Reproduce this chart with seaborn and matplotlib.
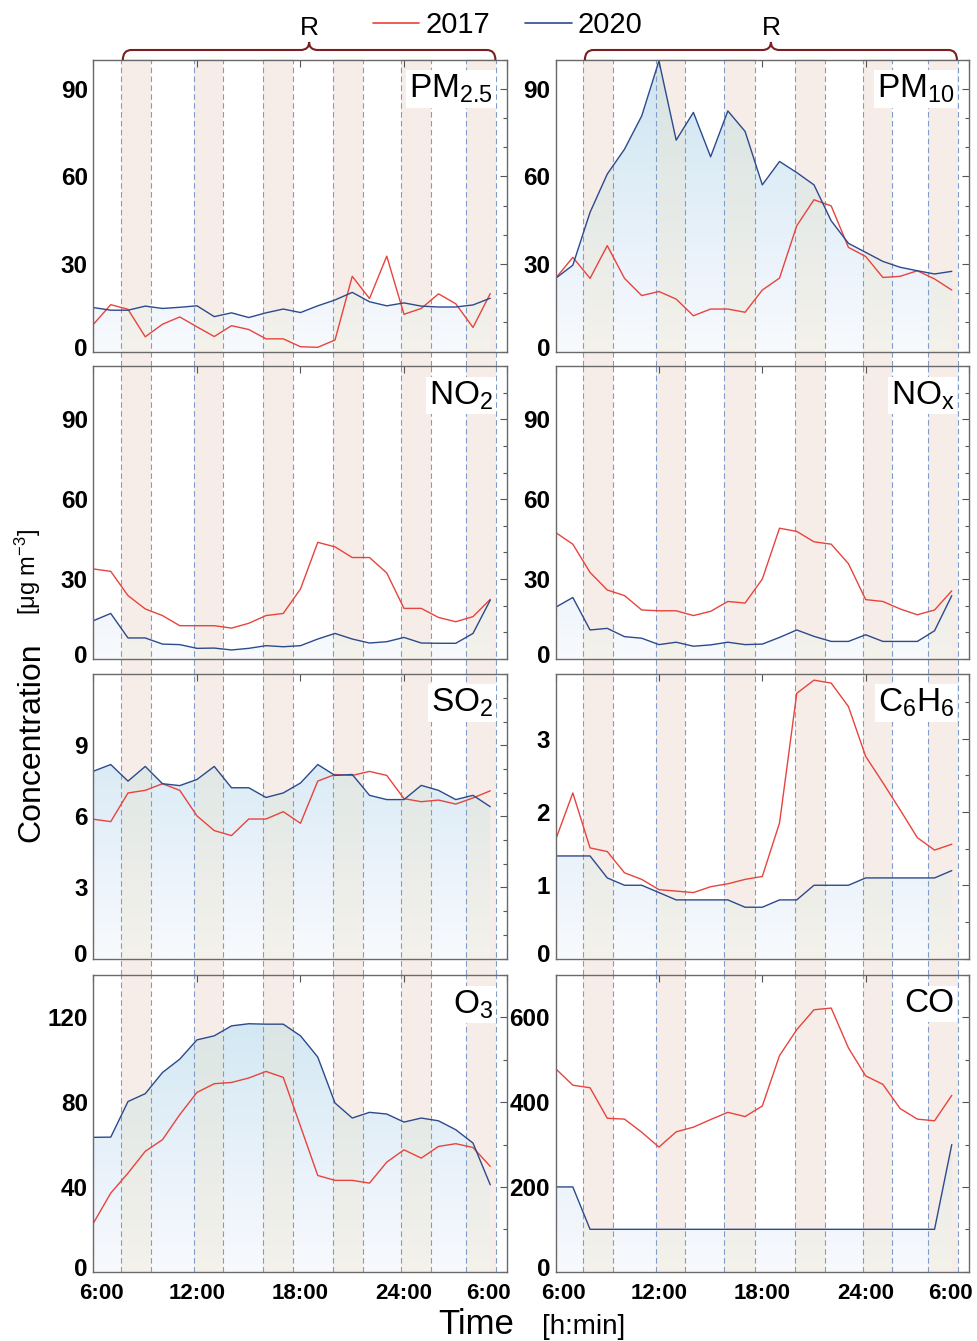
import numpy as np
import matplotlib
matplotlib.use("Agg")
import matplotlib.pyplot as plt
import seaborn as sns
from matplotlib.colors import LinearSegmentedColormap
from matplotlib.path import Path
from matplotlib.patches import PathPatch
from matplotlib.lines import Line2D
from matplotlib.ticker import MultipleLocator
from matplotlib.transforms import blended_transform_factory, ScaledTranslation

# hourly means, 6:00 -> 5:00 next day
hours = list(range(6, 30))

pm25_2017 = [9.4, 16.1, 14.5, 5.1, 9.4, 11.9, 8.5, 5.2, 8.9, 7.6, 4.4, 4.4,
             1.7, 1.5, 4.0, 25.8, 18.2, 32.7, 12.8, 14.8, 19.8, 16.4, 8.3, 19.9]
pm25_2020 = [15.1, 14.2, 14.2, 15.6, 14.8, 15.2, 15.7, 12.0, 13.3, 11.7, 13.3, 14.6,
             13.4, 15.7, 17.7, 20.3, 17.1, 15.7, 16.7, 15.6, 15.3, 15.3, 16.0, 18.3]

pm10_2017 = [25.1, 32.3, 25.1, 36.3, 25.1, 19.2, 20.6, 18.0, 12.3, 14.6, 14.6, 13.5,
             21.1, 25.2, 43.1, 52.0, 49.9, 35.7, 32.6, 25.4, 25.8, 27.7, 24.9, 21.1]
pm10_2020 = [25.1, 29.6, 47.7, 60.8, 69.3, 80.7, 99.5, 72.4, 81.9, 66.7, 82.4, 75.4,
             57.1, 65.1, 61.3, 57.1, 44.8, 37.1, 34.0, 30.9, 28.9, 27.7, 26.6, 27.5]

no2_2017 = [33.8, 32.9, 23.8, 18.8, 16.3, 12.5, 12.5, 12.5, 11.6, 13.4, 16.3, 17.1,
            26.3, 43.8, 42.1, 38.1, 38.1, 32.3, 19.0, 19.0, 15.6, 14.0, 15.9, 22.4]
no2_2020 = [14.4, 17.1, 7.9, 7.9, 5.6, 5.4, 4.0, 4.1, 3.4, 4.0, 5.0, 4.6,
            5.0, 7.5, 9.6, 7.5, 6.0, 6.5, 8.1, 6.0, 5.9, 5.9, 9.6, 22.1]

nox_2017 = [47.5, 43.1, 32.5, 25.9, 23.8, 18.4, 18.1, 18.1, 16.3, 17.9, 21.6, 21.0,
            30.0, 49.1, 47.9, 44.0, 43.1, 35.8, 22.3, 21.6, 18.8, 16.6, 18.4, 25.6]
nox_2020 = [19.4, 23.1, 10.9, 11.5, 8.4, 7.8, 5.4, 6.3, 4.8, 5.3, 6.3, 5.4,
            5.6, 8.1, 10.9, 8.5, 6.6, 6.6, 9.1, 6.6, 6.6, 6.6, 10.6, 23.8]

so2_2017 = [5.88, 5.78, 6.99, 7.10, 7.38, 7.10, 6.02, 5.40, 5.19, 5.89, 5.89, 6.20,
            5.71, 7.49, 7.77, 7.73, 7.90, 7.73, 6.75, 6.62, 6.69, 6.52, 6.78, 7.08]
so2_2020 = [7.91, 8.19, 7.49, 8.11, 7.38, 7.30, 7.56, 8.11, 7.21, 7.21, 6.80, 6.99,
            7.41, 8.19, 7.73, 7.77, 6.89, 6.71, 6.71, 7.31, 7.10, 6.71, 6.89, 6.41]

c6h6_2017 = [1.62, 2.26, 1.51, 1.46, 1.17, 1.08, 0.94, 0.92, 0.90, 0.98, 1.02, 1.08,
             1.12, 1.85, 3.62, 3.80, 3.76, 3.44, 2.76, 2.40, 2.03, 1.65, 1.48, 1.56]
c6h6_2020 = [1.4, 1.4, 1.4, 1.1, 1.0, 1.0, 0.9, 0.8, 0.8, 0.8, 0.8, 0.7,
             0.7, 0.8, 0.8, 1.0, 1.0, 1.0, 1.1, 1.1, 1.1, 1.1, 1.1, 1.2]

o3_2017 = [23.0, 37.1, 46.5, 56.8, 62.3, 74.1, 84.6, 88.7, 89.3, 91.4, 94.5, 91.7,
           68.6, 45.4, 43.1, 43.1, 41.8, 51.7, 57.5, 53.6, 59.1, 60.4, 58.6, 49.7]
o3_2020 = [63.4, 63.5, 80.3, 84.0, 94.0, 100.3, 109.4, 111.3, 116.0, 117.0, 116.8, 116.8,
           111.3, 101.3, 79.6, 72.5, 75.2, 74.4, 70.6, 72.5, 71.2, 67.0, 60.7, 41.0]

co_2017 = [479, 440, 434, 362, 360, 329, 294, 330, 341, 359, 376, 366,
           391, 510, 571, 618, 622, 528, 462, 442, 385, 360, 356, 416]
co_2020 = [200, 200, 100, 100, 100, 100, 100, 100, 100, 100, 100, 100,
           100, 100, 100, 100, 100, 100, 100, 100, 100, 100, 100, 300]

# rush-hour windows (R), in hours
rush_start = [7.6, 11.8, 15.8, 19.9, 23.85, 27.6]
rush_end = [9.35, 13.5, 17.55, 21.65, 25.55, 29.35]

time_ticks = [6, 12, 18, 24, 30]
time_labels = ["6:00", "12:00", "18:00", "24:00", "6:00"]

panel_names = [r"$PM_{2.5}$", r"$PM_{10}$", r"$NO_{2}$", r"$NO_{x}$",
               r"$SO_{2}$", r"$C_{6}H_{6}$", r"$O_{3}$", "CO"]
series_2017 = [pm25_2017, pm10_2017, no2_2017, nox_2017, so2_2017, c6h6_2017, o3_2017, co_2017]
series_2020 = [pm25_2020, pm10_2020, no2_2020, nox_2020, so2_2020, c6h6_2020, o3_2020, co_2020]
y_limits = [(0, 100), (0, 100), (0, 110), (0, 110), (0, 12), (0, 3.88), (0, 140), (0, 700)]
y_ticks = [[0, 30, 60, 90], [0, 30, 60, 90], [0, 30, 60, 90], [0, 30, 60, 90],
           [0, 3, 6, 9], [0, 1, 2, 3], [0, 40, 80, 120], [0, 200, 400, 600]]
y_minor = [10, 10, 10, 10, 1, 0.5, 20, 100]

RED = "#e8433d"
BLUE = "#2c4a8c"
DASH = "#7f9dca"
BAND = "#f7ede8"
BAND_OVER = (236 / 255, 225 / 255, 198 / 255)

sns.set_style("white")
plt.rcParams["font.family"] = ["Liberation Sans", "DejaVu Sans"]
plt.rcParams["mathtext.default"] = "regular"
plt.rcParams["text.color"] = "black"

fig = plt.figure(figsize=(9.78, 13.41), dpi=100)

W, H = 978, 1341
col_x = [(93.5, 507.5), (555.6, 969.0)]
row_y = [(59.5, 351.7), (366.0, 659.0), (674.3, 958.5), (975.0, 1271.7)]

grad_cmap = LinearSegmentedColormap.from_list(
    "fillgrad",
    [(0.0, (248 / 255, 250 / 255, 253 / 255)),
     (0.3, (236 / 255, 243 / 255, 251 / 255)),
     (0.6, (222 / 255, 237 / 255, 246 / 255)),
     (1.0, (204 / 255, 229 / 255, 242 / 255))])
gradient = np.linspace(0, 1, 256).reshape(-1, 1)

axes = []
for i in range(8):
    r, c = divmod(i, 2)
    x0, x1 = col_x[c]
    y0, y1 = row_y[r]
    ax = fig.add_axes([x0 / W, 1 - y1 / H, (x1 - x0) / W, (y1 - y0) / H])
    axes.append(ax)
    ylo, yhi = y_limits[i]
    ax.set_xlim(6, 30)
    ax.set_ylim(ylo, yhi)

    # gradient fill under the 2020 curve
    poly = ax.fill_between(hours, 0, series_2020[i], facecolor="none", edgecolor="none")
    fill_path = poly.get_paths()[0]
    im = ax.imshow(gradient, cmap=grad_cmap, origin="lower", aspect="auto",
                   extent=(6, 30, ylo, yhi), zorder=0.5, interpolation="bilinear")
    im.set_clip_path(fill_path, ax.transData)

    # rush-hour bands, extended into the gap below
    if r < 3:
        gap = (row_y[r + 1][0] - y1) / (y1 - y0)
        ymin = -gap
    else:
        ymin = 0
    for a, b in zip(rush_start, rush_end):
        ax.axvspan(a, b, ymin=ymin, ymax=1, facecolor=BAND, lw=0,
                   zorder=0.3, clip_on=False)
        over = ax.axvspan(a, b, facecolor=BAND_OVER, alpha=0.33, lw=0, zorder=0.7)
        over.set_clip_path(fill_path, ax.transData)
        for xv in (a, b):
            ax.axvline(xv, ymin=ymin, ymax=1, color=DASH, lw=0.8, ls=(0, (5, 3)),
                       zorder=1.2, clip_on=False)

    sns.lineplot(x=hours, y=series_2017[i], ax=ax, color=RED, lw=1.0, zorder=3)
    sns.lineplot(x=hours, y=series_2020[i], ax=ax, color=BLUE, lw=1.0, zorder=3)
    ax.set_xlabel("")
    ax.set_ylabel("")

    ax.set_yticks(y_ticks[i])
    ax.yaxis.set_minor_locator(MultipleLocator(y_minor[i]))
    ax.set_xticks(time_ticks)
    if r == 3:
        ax.set_xticklabels(time_labels)
    else:
        ax.set_xticklabels([])
    ax.tick_params(which="both", direction="in", top=True, right=True, colors="#555555",
                   labelcolor="black", width=0.8)
    ax.tick_params(axis="y", which="major", length=5, labelsize=17.5, pad=4)
    ax.tick_params(axis="x", which="major", length=5, labelsize=16, pad=8)
    ax.tick_params(which="minor", length=3)
    for lab in ax.get_yticklabels() + ax.get_xticklabels():
        lab.set_fontweight("bold")
    # lift the zero label a little off the bottom spine
    zero = ax.get_yticklabels()[0]
    zero.set_transform(zero.get_transform() + ScaledTranslation(0, 0.05, fig.dpi_scale_trans))
    for s in ax.spines.values():
        s.set_color("#6a6a6a")
        s.set_linewidth(1.0)
        s.set_zorder(4)

    ax.text(0.965, 0.955, panel_names[i], transform=ax.transAxes, ha="right", va="top",
            fontsize=24, zorder=6, color="black",
            bbox=dict(facecolor="white", edgecolor="none", pad=2))

# nudge the first and last time labels inward
for ax in axes[6:]:
    labs = ax.get_xticklabels()
    labs[0].set_transform(labs[0].get_transform() + ScaledTranslation(0.08, 0, fig.dpi_scale_trans))
    labs[-1].set_transform(labs[-1].get_transform() + ScaledTranslation(-0.19, 0, fig.dpi_scale_trans))

# braces marking the rush-hour (R) windows
for ax in axes[:2]:
    tr = blended_transform_factory(ax.transData, fig.transFigure)
    xa, xb, xm = 7.7, 29.3, 18.5
    rr = 0.5
    ye, yh, yt = 1 - 60 / H, 1 - 50 / H, 1 - 42 / H
    verts = [(xa, ye), (xa, yh), (xa + rr, yh),
             (xm - rr, yh), (xm, yh), (xm, yt),
             (xm, yh), (xm + rr, yh),
             (xb - rr, yh), (xb, yh), (xb, ye)]
    codes = [Path.MOVETO, Path.CURVE3, Path.CURVE3,
             Path.LINETO, Path.CURVE3, Path.CURVE3,
             Path.CURVE3, Path.CURVE3,
             Path.LINETO, Path.CURVE3, Path.CURVE3]
    patch = PathPatch(Path(verts, codes), transform=tr, facecolor="none",
                      edgecolor="#7a1f1f", lw=1.5, clip_on=False)
    fig.add_artist(patch)
    fig.text(xm, 1 - 28 / H, "R", transform=tr, ha="center", va="center", fontsize=19)

handles = [Line2D([], [], color=RED, lw=1.2), Line2D([], [], color=BLUE, lw=1.2)]
fig.legend(handles, ["2017", "2020"], loc="center", bbox_to_anchor=(0.519, 1 - 25 / H),
           ncol=2, frameon=False, fontsize=21, handlelength=1.6, handletextpad=0.2,
           columnspacing=1.2)

fig.text(0.032, 1 - 742 / H, "Concentration", rotation=90, ha="center", va="center", fontsize=23)
fig.text(0.029, 1 - 572 / H, r"[μg m$^{-3}$]", rotation=90, ha="center", va="center", fontsize=17)
fig.text(476 / W, 1 - 1325 / H, "Time", ha="center", va="center", fontsize=25)
fig.text(584 / W, 1 - 1327 / H, "[h:min]", ha="center", va="center", fontsize=20)

fig.savefig("out.png", dpi=100)
